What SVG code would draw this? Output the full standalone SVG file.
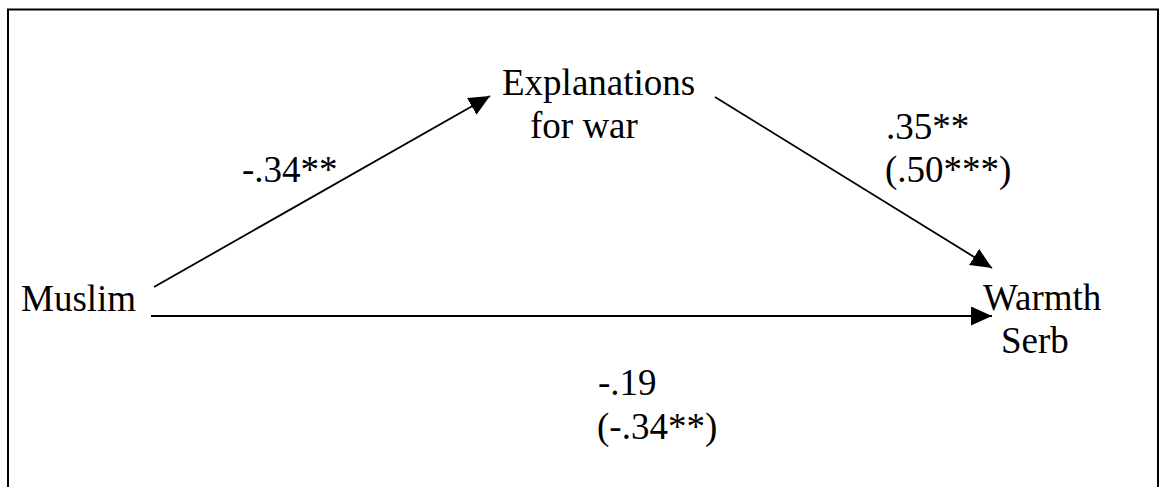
<svg xmlns="http://www.w3.org/2000/svg" width="1162" height="487" viewBox="0 0 1162 487">
<style>
.t{font-family:'Liberation Serif','Times New Roman',Times,'DejaVu Serif',serif;font-size:37px;fill:#000}
.c{stroke:#000;stroke-width:1.8;fill:none}
</style>
<defs>
<marker id="ah" markerUnits="userSpaceOnUse" markerWidth="22" markerHeight="20" refX="21" refY="9.5" orient="auto">
<path d="M0,0 L21,9.5 L0,19 Z" fill="#000"/>
</marker>
</defs>
<rect x="8" y="9.5" width="1150" height="500" fill="#fff" stroke="#000" stroke-width="2"/>
<g id="connectors">
<line class="c" x1="154" y1="287" x2="490" y2="96" marker-end="url(#ah)"/>
<line class="c" x1="715" y1="97" x2="992" y2="268" marker-end="url(#ah)"/>
<line class="c" x1="151" y1="316" x2="992" y2="316" marker-end="url(#ah)"/>
</g>
<g class="t" font-family="Liberation Serif, serif">
<g id="muslim"><text x="21" y="311">Muslim</text></g>
<g id="explanations"><text x="502" y="95">Explanations</text><text x="530" y="138">for war</text></g>
<g id="warmth"><text x="983" y="310">Warmth</text><text x="1001" y="353">Serb</text></g>
<g id="labels">
<text x="242" y="182">-.34**</text>
<text x="886" y="139">.35**</text>
<text x="885" y="182">(.50***)</text>
<text x="598" y="395">-.19</text>
<text x="597" y="439">(-.34**)</text>
</g>
</g>
</svg>
